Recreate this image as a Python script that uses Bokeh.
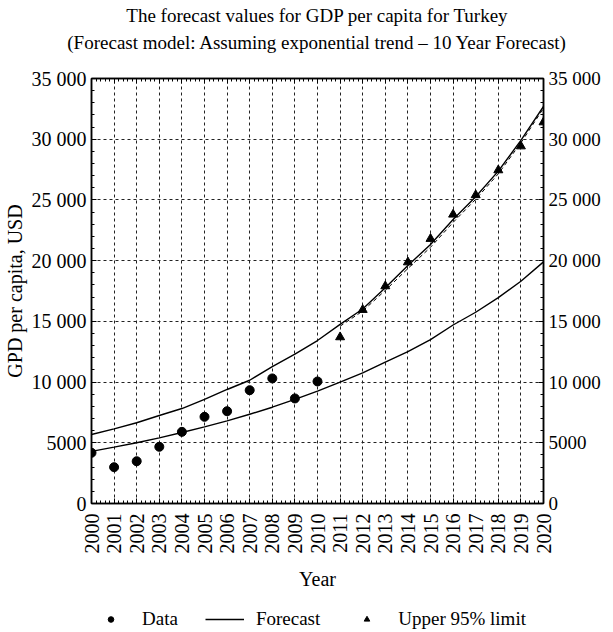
import math
from bokeh.plotting import figure
from bokeh.layouts import column
from bokeh.models import (LinearAxis, SingleIntervalTicker, Range1d, Legend,
                          LegendItem, Title)
from bokeh.embed import file_html
from bokeh.resources import INLINE

FONT = "Liberation Serif"

years = list(range(2000, 2021))
data_years = list(range(2000, 2011))
data_values = [4175, 2990, 3480, 4670, 5900, 7140, 7600, 9330, 10300, 8650, 10050]
forecast_lower = [4290, 4640, 5000, 5400, 5850, 6310, 6810, 7350, 7930, 8570, 9250,
                  10000, 10750, 11650, 12500, 13500, 14700, 15750, 16950, 18300, 19900]
forecast_upper = [5680, 6150, 6650, 7250, 7820, 8570, 9390, 10150, 11280, 12300, 13420,
                  14750, 16020, 17760, 19600, 21330, 23390, 25260, 27370, 29900, 32700]
limit_years = list(range(2011, 2021))
upper_limit = [13700, 15950, 17900, 19870, 21800, 23800, 25400, 27450, 29420, 31400]
dashed_years = list(range(2011, 2021))
dashed_values = [14600, 15850, 17550, 19350, 21100, 23150, 25050, 27150, 29700, 32550]

y_ticks = [0, 5000, 10000, 15000, 20000, 25000, 30000, 35000]
y_tick_labels = ["0", "5000", "10 000", "15 000", "20 000", "25 000", "30 000", "35 000"]

p = figure(frame_width=452, frame_height=425, output_backend="svg", toolbar_location=None,
           x_range=Range1d(2000, 2020), y_range=Range1d(0, 35000),
           min_border_left=87, min_border_right=50, min_border_top=78, min_border_bottom=100)
p.background_fill_color = "white"
p.border_fill_color = "white"
p.outline_line_color = "black"
p.outline_line_width = 1.5

overrides = {t: l for t, l in zip(y_ticks, y_tick_labels)}

def style_axis(ax, labels=True, size="20px"):
    ax.axis_line_color = "black"
    ax.axis_line_width = 1.5
    ax.major_tick_in = 5
    ax.major_tick_out = 0
    ax.minor_tick_in = 3
    ax.minor_tick_out = 0
    ax.major_tick_line_color = "black"
    ax.minor_tick_line_color = "black"
    ax.major_label_text_font = FONT
    ax.major_label_text_font_size = size if labels else "1px"
    ax.major_label_text_color = "black"
    ax.major_label_text_alpha = 1.0 if labels else 0.0
    ax.axis_label_text_font = FONT
    ax.axis_label_text_font_size = "20px"
    ax.axis_label_text_font_style = "normal"
    ax.axis_label_text_color = "black"

# x axis
p.xaxis.ticker = SingleIntervalTicker(interval=1, num_minor_ticks=5)
p.xaxis.major_label_orientation = math.pi / 2
p.xaxis.axis_label = "Year"
style_axis(p.xaxis[0])
p.xaxis.major_label_standoff = 10
p.xaxis.axis_label_standoff = 11

# y axis
p.yaxis.ticker = SingleIntervalTicker(interval=5000, num_minor_ticks=5)
p.yaxis.major_label_overrides = overrides
p.yaxis.axis_label = "GPD per capita, USD"
style_axis(p.yaxis[0])
p.yaxis.major_label_standoff = 5
p.yaxis.axis_label_standoff = 3

right = LinearAxis(ticker=SingleIntervalTicker(interval=5000, num_minor_ticks=5))
right.major_label_overrides = overrides
style_axis(right, size="19px")
right.major_label_standoff = 5
p.add_layout(right, "right")

top = LinearAxis(ticker=SingleIntervalTicker(interval=1, num_minor_ticks=5))
style_axis(top, labels=False)
top.major_label_standoff = 19
p.add_layout(top, "above")

for g in (p.xgrid[0], p.ygrid[0]):
    g.grid_line_color = "#222222"
    g.grid_line_dash = "3 3"
    g.grid_line_width = 1

# titles (a blank spacer keeps the two title lines clear of the frame)
spacer = Title(text=" ", text_font=FONT, text_font_size="1px", standoff=19)
t2 = Title(text="(Forecast model: Assuming exponential trend \u2013 10 Year Forecast)",
           align="center", text_font=FONT, text_font_size="19px",
           text_font_style="normal", text_color="black", standoff=8)
t1 = Title(text="The forecast values for GDP per capita for Turkey",
           align="center", text_font=FONT, text_font_size="19px",
           text_font_style="normal", text_color="black", standoff=0)
p.add_layout(spacer, "above")
p.add_layout(t2, "above")
p.add_layout(t1, "above")

# glyphs
p.line(years, forecast_lower, line_color="black", line_width=1.4)
p.line(years, forecast_upper, line_color="black", line_width=1.4)
p.line(dashed_years, dashed_values, line_color="black", line_width=1, line_dash="4 3")
p.scatter(data_years, data_values, marker="circle", size=9,
          fill_color="black", line_color="black")
p.scatter(limit_years, upper_limit, marker="triangle", size=9,
          fill_color="black", line_color="black")

# legend strip (separate small figure, glyphs kept outside its ranges)
p2 = figure(width=597, height=30, output_backend="svg", toolbar_location=None,
            x_range=Range1d(0, 1), y_range=Range1d(0, 1), min_border=0)
p2.axis.visible = False
p2.grid.visible = False
p2.outline_line_color = None
p2.background_fill_color = "white"
p2.border_fill_color = "white"
l_data = p2.scatter(data_years, data_values, marker="circle", size=9,
                    fill_color="black", line_color="black")
l_fore = p2.line(years, forecast_lower, line_color="black", line_width=1.4)
l_up = p2.scatter(limit_years, upper_limit, marker="triangle", size=9,
                  fill_color="black", line_color="black")

legend = Legend(items=[LegendItem(label="Data", renderers=[l_data]),
                       LegendItem(label="Forecast", renderers=[l_fore]),
                       LegendItem(label="Upper 95% limit", renderers=[l_up])],
                location=(0, 3), orientation="horizontal",
                glyph_width=39, glyph_height=14, label_standoff=12,
                padding=0, margin=0, spacing=27,
                border_line_color=None, background_fill_color=None,
                label_text_font=FONT, label_text_font_size="19px",
                label_text_color="black")
p2.add_layout(legend)

layout = column(p, p2, spacing=0)
open("out.html", "w").write(file_html(layout, INLINE))
